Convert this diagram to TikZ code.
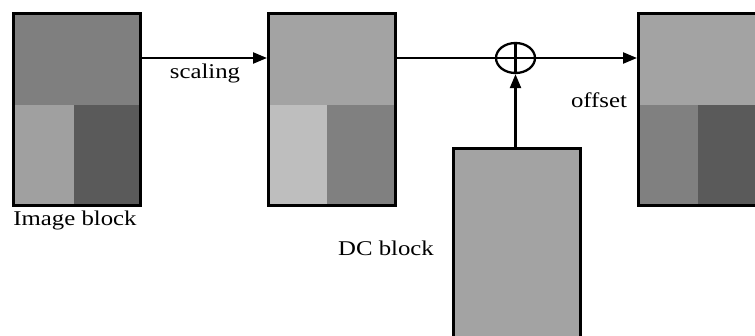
\documentclass[tikz,border=0pt]{standalone}
\usepackage{fontspec}
\setmainfont[FakeStretch=1.18]{Liberation Serif}
\usetikzlibrary{arrows.meta,shapes.geometric}
\definecolor{gA}{HTML}{7F7F7F}
\definecolor{gB}{HTML}{A0A0A0}
\definecolor{gC}{HTML}{5A5A5A}
\definecolor{gD}{HTML}{A3A3A3}
\definecolor{gE}{HTML}{BEBEBE}
\definecolor{gF}{HTML}{808080}
\tikzset{
  blk/.style={draw=black, line width=3pt, inner sep=0pt, anchor=north west},
  conn/.style={line width=2.3pt},
  arr/.style={conn, -{Triangle[length=14pt,width=11pt]}},
  lbl/.style={font=\fontsize{21}{24}\selectfont, inner sep=0pt},
}
\begin{document}
\begin{tikzpicture}[x=1pt,y=-1pt]
\useasboundingbox (0,0) rectangle (755,335);
\clip (0,0) rectangle (755,335);
% block 1 fills
\fill[gA] (12,12) rectangle (139,105);
\fill[gB] (12,105) rectangle (74,204);
\fill[gC] (74,105) rectangle (139,204);
% block 2 fills
\fill[gD] (267,12) rectangle (394,105);
\fill[gE] (267,105) rectangle (327,204);
\fill[gF] (327,105) rectangle (394,204);
% block 3 fills
\fill[gD] (637,12) rectangle (770,105);
\fill[gF] (637,105) rectangle (698,204);
\fill[gC] (698,105) rectangle (770,204);
% DC block fill
\fill[gD] (452,147) rectangle (579,350);
% borders as nodes
\node[blk, minimum width=127pt, minimum height=192pt] (b1) at (12,12) {};
\node[blk, minimum width=127pt, minimum height=192pt] (b2) at (267,12) {};
\node[blk, minimum width=133pt, minimum height=192pt] (b3) at (637,12) {};
\node[blk, minimum width=127pt, minimum height=203pt] (dc) at (452,147) {};
% adder
\node[draw=black, line width=2.3pt, ellipse, minimum width=39pt, minimum height=30pt, inner sep=0pt] (plus) at (515.5,58) {};
\draw[conn] (plus.north) -- (plus.south);
% connectors
\draw[arr] (b1.east |- plus) -- (b2.west |- plus);
\draw[conn] (b2.east |- plus) -- (plus.west);
\draw[conn] (plus.west) -- (plus.east);
\draw[arr] (plus.east) -- (b3.west |- plus);
\draw[arr] (dc.north -| plus) -- (plus.south);
% labels
\node[lbl] (ls) at (205,73) {scaling};
\node[lbl] (li) at (75,220) {Image block};
\node[lbl] (lo) at (599,100) {offset};
\node[lbl] (ld) at (386,248) {DC block};
\end{tikzpicture}
\end{document}
